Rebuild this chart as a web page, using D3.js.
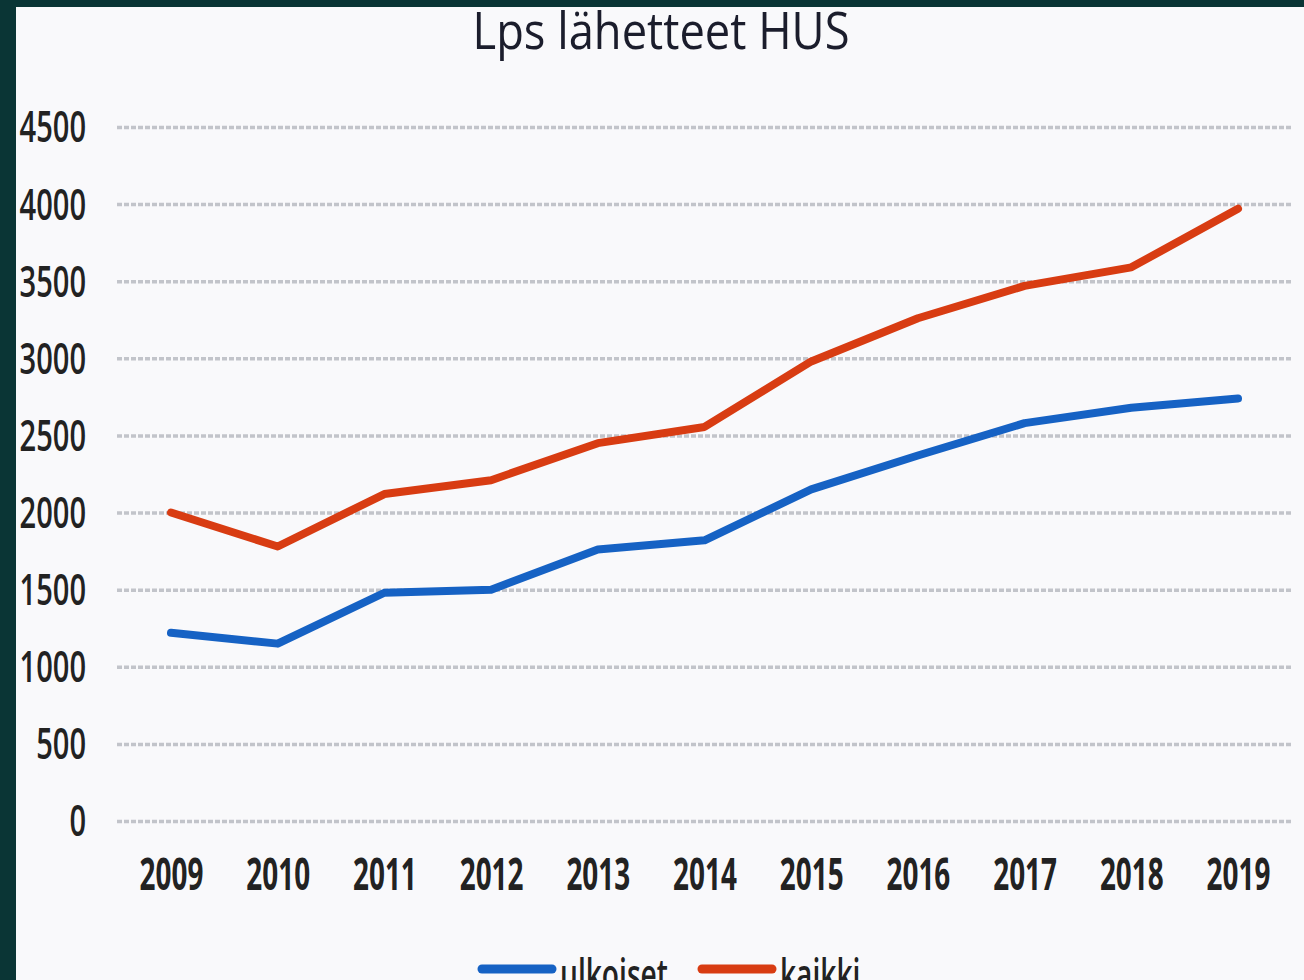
<!DOCTYPE html>
<html>
<head>
<meta charset="utf-8">
<script src="https://cdn.jsdelivr.net/npm/d3@7"></script>
<style>
  body { margin: 0; background: #0a3535; }
  svg { display: block; }
</style>
</head>
<body>
<div id="chart"></div>
<script>
// data
const years = [2009, 2010, 2011, 2012, 2013, 2014, 2015, 2016, 2017, 2018, 2019];
const ulkoiset = [1220, 1150, 1480, 1500, 1760, 1820, 2150, 2370, 2580, 2680, 2740];
const kaikki = [2000, 1780, 2120, 2210, 2450, 2555, 2980, 3260, 3470, 3590, 3970];
const yTicks = [0, 500, 1000, 1500, 2000, 2500, 3000, 3500, 4000, 4500];
const seriesNames = ["ulkoiset", "kaikki"];
const seriesColors = ["#1662c4", "#d83c12"];

const W = 1304, H = 980;
const plot = { left: 117, right: 1293, top: 127, bottom: 821 };

const svg = d3.select("#chart").append("svg")
    .attr("width", W)
    .attr("height", H);

svg.append("rect").attr("width", W).attr("height", H).attr("fill", "#0a3535");
svg.append("rect").attr("x", 16).attr("y", 7).attr("width", W - 16).attr("height", H - 7).attr("fill", "#f9f9fb");

const x = d3.scalePoint().domain(years).range([171, 1238]);
const y = d3.scaleLinear().domain([0, 4500]).range([plot.bottom, plot.top]);

// title
svg.append("text")
    .attr("x", 661).attr("y", 49)
    .attr("text-anchor", "middle")
    .attr("textLength", 377)
    .attr("lengthAdjust", "spacingAndGlyphs")
    .style("font-family", "'Open Sans', sans-serif")
    .style("font-size", "52px")
    .attr("fill", "#1b1d2c")
    .text("Lps lähetteet HUS");

// y axis + gridlines
const yAxis = d3.axisLeft(y).tickValues(yTicks).tickSize(-(plot.right - plot.left)).tickFormat(d3.format("d"));
const gy = svg.append("g")
    .attr("transform", "translate(" + plot.left + ",0)")
    .call(yAxis);
gy.select(".domain").remove();
gy.selectAll(".tick line")
    .attr("stroke", "#c2c4ca")
    .attr("stroke-width", 3.5)
    .attr("stroke-dasharray", "5,2");
gy.selectAll(".tick text")
    .attr("x", 0)
    .attr("dy", "0.34em")
    .attr("transform", "translate(-31,0) scale(0.66,1)")
    .style("font-family", "'Open Sans', sans-serif")
    .style("font-size", "44px")
    .style("font-weight", 600)
    .attr("fill", "#222");

// x axis labels
const xAxis = d3.axisBottom(x).tickSize(0).tickFormat(d3.format("d"));
const gx = svg.append("g")
    .attr("transform", "translate(0," + plot.bottom + ")")
    .call(xAxis);
gx.select(".domain").remove();
gx.selectAll(".tick text")
    .attr("y", 0)
    .attr("dy", 0)
    .attr("transform", "translate(0,69) scale(0.62,1)")
    .style("font-family", "'Open Sans', sans-serif")
    .style("font-size", "45px")
    .style("font-weight", 700)
    .attr("fill", "#222");

// lines
const line = d3.line()
    .x((d, i) => x(years[i]))
    .y(d => y(d));

[ulkoiset, kaikki].forEach((vals, k) => {
    svg.append("path")
        .datum(vals)
        .attr("d", line)
        .attr("fill", "none")
        .attr("stroke", seriesColors[k])
        .attr("stroke-width", 8)
        .attr("stroke-linejoin", "round")
        .attr("stroke-linecap", "round");
});

// legend (runs off the bottom edge like the picture)
const legendX = [478, 698];
seriesNames.forEach((name, k) => {
    const g = svg.append("g").attr("transform", "translate(" + legendX[k] + ",969)");
    g.append("line")
        .attr("x1", 4).attr("x2", 74)
        .attr("stroke", seriesColors[k])
        .attr("stroke-width", 9)
        .attr("stroke-linecap", "round");
    g.append("text")
        .attr("transform", "translate(82,21) scale(0.64,1)")
        .style("font-family", "'Open Sans', sans-serif")
        .style("font-size", "44px")
        .style("font-weight", 600)
        .attr("fill", "#222")
        .text(name);
});
</script>
</body>
</html>
